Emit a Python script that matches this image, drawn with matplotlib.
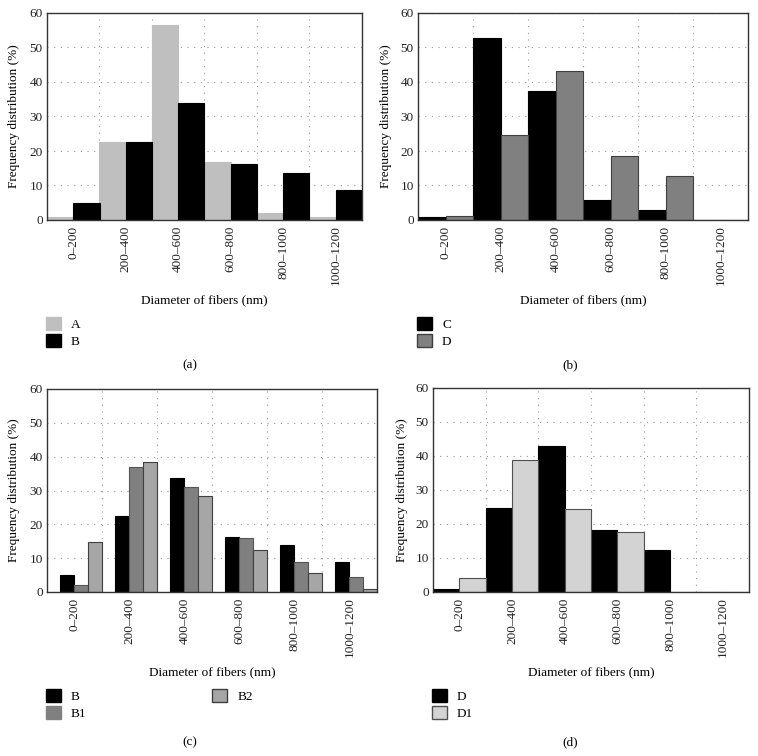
import numpy as np
import matplotlib
matplotlib.use("Agg")
import matplotlib.pyplot as plt
from matplotlib.patches import Patch

# data
categories = ["0–200", "200–400", "400–600", "600–800", "800–1000", "1000–1200"]

a_A = [0.9, 22.6, 56.4, 16.8, 1.9, 1.0]
a_B = [5.0, 22.5, 33.8, 16.3, 13.7, 8.7]

b_C = [1.0, 52.7, 37.5, 5.9, 2.9, 0.0]
b_D = [1.1, 24.7, 43.3, 18.6, 12.8, 0.0]

c_B = [4.9, 22.5, 33.7, 16.2, 13.8, 8.75]
c_B1 = [2.0, 37.0, 31.0, 15.9, 8.9, 4.4]
c_B2 = [14.7, 38.5, 28.4, 12.4, 5.5, 0.9]

d_D = [0.8, 24.6, 43.0, 18.3, 12.5, 0.0]
d_D1 = [4.2, 38.8, 24.3, 17.7, 0.0, 0.0]

plt.rcParams['font.family'] = ['Liberation Serif', 'DejaVu Serif']
plt.rcParams['font.size'] = 9

W, H = 758, 756
fig = plt.figure(figsize=(W / 100, H / 100), dpi=100)


def add_axes_px(left, right, top, bottom):
    return fig.add_axes([left / W, 1 - bottom / H, (right - left) / W, (bottom - top) / H])


def style_axes(ax, ylabel_x, xlabel_y):
    n = len(categories)
    ax.set_xlim(0, n)
    ax.set_ylim(0, 60)
    ax.set_yticks(range(0, 61, 10))
    ax.set_xticks(np.arange(n) + 0.5)
    ax.set_xticklabels(categories, rotation=90)
    ax.set_xticks(np.arange(1, n), minor=True)
    ax.tick_params(axis='both', which='both', length=0, labelsize=9.5, colors='#222222')
    ax.tick_params(axis='x', pad=4)
    ax.tick_params(axis='y', pad=3)
    ax.grid(True, axis='y', which='major', linestyle=(0, (1, 5)), color='#999999', linewidth=0.8)
    ax.grid(True, axis='x', which='minor', linestyle=(0, (1, 5)), color='#999999', linewidth=0.8)
    ax.set_axisbelow(True)
    for s in ax.spines.values():
        s.set_color('#333333')
        s.set_linewidth(1.0)
    pos = ax.get_position()
    ax.set_ylabel("Frequency distribution (%)", fontsize=9.5)
    ax.yaxis.set_label_coords((ylabel_x / W - pos.x0) / pos.width, 0.5)
    ax.yaxis.label.set_va('center')
    ax.set_xlabel("Diameter of fibers (nm)", fontsize=9.5)
    ax.xaxis.set_label_coords(0.5, ((1 - xlabel_y / H) - pos.y0) / pos.height)
    ax.xaxis.label.set_va('center')


def two_bars(ax, v1, v2, c1, c2, e1, e2):
    x = np.arange(len(categories))
    ax.bar(x, v1, width=0.5, align='edge', color=c1, edgecolor=e1, linewidth=0.8, zorder=2)
    ax.bar(x + 0.5, v2, width=0.5, align='edge', color=c2, edgecolor=e2, linewidth=0.8, zorder=2)


def add_legend(ax, handles, x, y, ncol=1, colspace=2.0):
    ax.legend(handles=handles, loc='upper left', bbox_to_anchor=(x / W, 1 - y / H),
              bbox_transform=fig.transFigure, frameon=False, ncol=ncol,
              handlelength=1.1, handleheight=1.15, labelspacing=0.22,
              handletextpad=0.8, borderpad=0, borderaxespad=0,
              columnspacing=colspace, fontsize=9.5)


# (a)
ax = add_axes_px(47, 362, 13, 220)
two_bars(ax, a_A, a_B, '#bfbfbf', '#000000', '#bfbfbf', '#000000')
style_axes(ax, 14, 300)
add_legend(ax, [Patch(facecolor='#bfbfbf', edgecolor='#bfbfbf', label='A'),
                Patch(facecolor='#000000', edgecolor='#000000', label='B')], 46, 317)
fig.text(190 / W, 1 - 365 / H, "(a)", ha='center', va='center', fontsize=9.5)

# (b)
ax = add_axes_px(418, 748, 13, 220)
two_bars(ax, b_C, b_D, '#000000', '#808080', '#000000', '#404040')
style_axes(ax, 386, 300)
add_legend(ax, [Patch(facecolor='#000000', edgecolor='#000000', label='C'),
                Patch(facecolor='#808080', edgecolor='#404040', label='D')], 417, 317)
fig.text(570 / W, 1 - 365 / H, "(b)", ha='center', va='center', fontsize=9.5)

# (c) three series, bars sit in the right part of each group
ax = add_axes_px(47, 377, 389, 592)
gap = 0.236
w = (1 - gap) / 3
x = np.arange(len(categories))
for k, (vals, col, ec) in enumerate([(c_B, '#000000', '#000000'),
                                      (c_B1, '#808080', '#555555'),
                                      (c_B2, '#a6a6a6', '#404040')]):
    ax.bar(x + gap + k * w, vals, width=w, align='edge', color=col, edgecolor=ec,
           linewidth=0.8, zorder=2)
style_axes(ax, 14, 672)
add_legend(ax, [Patch(facecolor='#000000', edgecolor='#000000', label='B'),
                Patch(facecolor='#808080', edgecolor='#808080', label='B1'),
                Patch(facecolor='#a6a6a6', edgecolor='#404040', label='B2')],
           46, 689, ncol=2, colspace=9.5)
fig.text(190 / W, 1 - 742 / H, "(c)", ha='center', va='center', fontsize=9.5)

# (d)
ax = add_axes_px(433, 749, 388, 592)
two_bars(ax, d_D, d_D1, '#000000', '#d3d3d3', '#000000', '#505050')
style_axes(ax, 402, 672)
add_legend(ax, [Patch(facecolor='#000000', edgecolor='#000000', label='D'),
                Patch(facecolor='#d3d3d3', edgecolor='#505050', label='D1')], 432, 689)
fig.text(570 / W, 1 - 742 / H, "(d)", ha='center', va='center', fontsize=9.5)

fig.savefig("out.png", dpi=100, facecolor='white')
